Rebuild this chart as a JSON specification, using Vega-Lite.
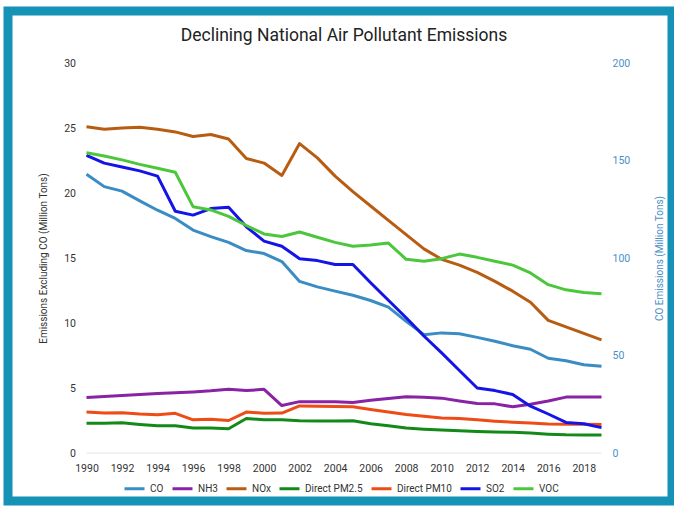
{
  "$schema": "https://vega.github.io/schema/vega-lite/v6.json",
  "width": 664,
  "height": 490,
  "autosize": {"type": "none"},
  "padding": {"left": 8, "top": 11, "right": 2, "bottom": 5},
  "background": "white",
  "config": {
    "font": "Roboto",
    "view": {"stroke": "#1592b6", "strokeWidth": 9, "fill": "white"},
    "axis": {"grid": false, "domain": false, "ticks": false, "tickSize": 0, "labelFontSize": 10.5, "labelColor": "#333333", "titleFontSize": 10, "titleFontWeight": "normal", "titleColor": "#333333", "labelPadding": 3}
  },
  "title": {"text": "Declining National Air Pollutant Emissions", "fontSize": 17.5, "fontWeight": "normal", "color": "#222222", "offset": -33, "anchor": "middle", "frame": "group", "dx": 4},
  "datasets": {
    "emis": [
      {"year": 1990, "pollutant": "CO", "value": 143},
      {"year": 1991, "pollutant": "CO", "value": 136.6},
      {"year": 1992, "pollutant": "CO", "value": 134.3},
      {"year": 1993, "pollutant": "CO", "value": 129.3},
      {"year": 1994, "pollutant": "CO", "value": 124.5},
      {"year": 1995, "pollutant": "CO", "value": 120.3},
      {"year": 1996, "pollutant": "CO", "value": 114.3},
      {"year": 1997, "pollutant": "CO", "value": 111},
      {"year": 1998, "pollutant": "CO", "value": 108},
      {"year": 1999, "pollutant": "CO", "value": 103.8},
      {"year": 2000, "pollutant": "CO", "value": 102.3},
      {"year": 2001, "pollutant": "CO", "value": 98.2},
      {"year": 2002, "pollutant": "CO", "value": 88},
      {"year": 2003, "pollutant": "CO", "value": 85.2},
      {"year": 2004, "pollutant": "CO", "value": 83},
      {"year": 2005, "pollutant": "CO", "value": 80.9},
      {"year": 2006, "pollutant": "CO", "value": 78.2},
      {"year": 2007, "pollutant": "CO", "value": 74.8},
      {"year": 2008, "pollutant": "CO", "value": 67.5},
      {"year": 2009, "pollutant": "CO", "value": 60.7},
      {"year": 2010, "pollutant": "CO", "value": 61.6},
      {"year": 2011, "pollutant": "CO", "value": 61.2},
      {"year": 2012, "pollutant": "CO", "value": 59.3},
      {"year": 2013, "pollutant": "CO", "value": 57.3},
      {"year": 2014, "pollutant": "CO", "value": 55},
      {"year": 2015, "pollutant": "CO", "value": 53.2},
      {"year": 2016, "pollutant": "CO", "value": 48.6},
      {"year": 2017, "pollutant": "CO", "value": 47.3},
      {"year": 2018, "pollutant": "CO", "value": 45.3},
      {"year": 2019, "pollutant": "CO", "value": 44.5},
      {"year": 1990, "pollutant": "NH3", "value": 4.27},
      {"year": 1991, "pollutant": "NH3", "value": 4.35},
      {"year": 1992, "pollutant": "NH3", "value": 4.43},
      {"year": 1993, "pollutant": "NH3", "value": 4.5},
      {"year": 1994, "pollutant": "NH3", "value": 4.57},
      {"year": 1995, "pollutant": "NH3", "value": 4.63},
      {"year": 1996, "pollutant": "NH3", "value": 4.7},
      {"year": 1997, "pollutant": "NH3", "value": 4.78},
      {"year": 1998, "pollutant": "NH3", "value": 4.9},
      {"year": 1999, "pollutant": "NH3", "value": 4.8},
      {"year": 2000, "pollutant": "NH3", "value": 4.9},
      {"year": 2001, "pollutant": "NH3", "value": 3.65},
      {"year": 2002, "pollutant": "NH3", "value": 3.95},
      {"year": 2003, "pollutant": "NH3", "value": 3.95},
      {"year": 2004, "pollutant": "NH3", "value": 3.95},
      {"year": 2005, "pollutant": "NH3", "value": 3.88},
      {"year": 2006, "pollutant": "NH3", "value": 4.05},
      {"year": 2007, "pollutant": "NH3", "value": 4.2},
      {"year": 2008, "pollutant": "NH3", "value": 4.32},
      {"year": 2009, "pollutant": "NH3", "value": 4.28},
      {"year": 2010, "pollutant": "NH3", "value": 4.22},
      {"year": 2011, "pollutant": "NH3", "value": 4.0},
      {"year": 2012, "pollutant": "NH3", "value": 3.8},
      {"year": 2013, "pollutant": "NH3", "value": 3.78},
      {"year": 2014, "pollutant": "NH3", "value": 3.55},
      {"year": 2015, "pollutant": "NH3", "value": 3.75},
      {"year": 2016, "pollutant": "NH3", "value": 4.0},
      {"year": 2017, "pollutant": "NH3", "value": 4.3},
      {"year": 2018, "pollutant": "NH3", "value": 4.3},
      {"year": 2019, "pollutant": "NH3", "value": 4.3},
      {"year": 1990, "pollutant": "NOx", "value": 25.1},
      {"year": 1991, "pollutant": "NOx", "value": 24.9},
      {"year": 1992, "pollutant": "NOx", "value": 25.0},
      {"year": 1993, "pollutant": "NOx", "value": 25.05},
      {"year": 1994, "pollutant": "NOx", "value": 24.9},
      {"year": 1995, "pollutant": "NOx", "value": 24.7},
      {"year": 1996, "pollutant": "NOx", "value": 24.35},
      {"year": 1997, "pollutant": "NOx", "value": 24.5},
      {"year": 1998, "pollutant": "NOx", "value": 24.15},
      {"year": 1999, "pollutant": "NOx", "value": 22.65},
      {"year": 2000, "pollutant": "NOx", "value": 22.3},
      {"year": 2001, "pollutant": "NOx", "value": 21.35},
      {"year": 2002, "pollutant": "NOx", "value": 23.8},
      {"year": 2003, "pollutant": "NOx", "value": 22.7},
      {"year": 2004, "pollutant": "NOx", "value": 21.3},
      {"year": 2005, "pollutant": "NOx", "value": 20.1},
      {"year": 2006, "pollutant": "NOx", "value": 19.0},
      {"year": 2007, "pollutant": "NOx", "value": 17.9},
      {"year": 2008, "pollutant": "NOx", "value": 16.8},
      {"year": 2009, "pollutant": "NOx", "value": 15.7},
      {"year": 2010, "pollutant": "NOx", "value": 14.9},
      {"year": 2011, "pollutant": "NOx", "value": 14.45},
      {"year": 2012, "pollutant": "NOx", "value": 13.9},
      {"year": 2013, "pollutant": "NOx", "value": 13.2},
      {"year": 2014, "pollutant": "NOx", "value": 12.45},
      {"year": 2015, "pollutant": "NOx", "value": 11.6},
      {"year": 2016, "pollutant": "NOx", "value": 10.2},
      {"year": 2017, "pollutant": "NOx", "value": 9.7},
      {"year": 2018, "pollutant": "NOx", "value": 9.2},
      {"year": 2019, "pollutant": "NOx", "value": 8.7},
      {"year": 1990, "pollutant": "Direct PM2.5", "value": 2.28},
      {"year": 1991, "pollutant": "Direct PM2.5", "value": 2.28},
      {"year": 1992, "pollutant": "Direct PM2.5", "value": 2.32},
      {"year": 1993, "pollutant": "Direct PM2.5", "value": 2.2},
      {"year": 1994, "pollutant": "Direct PM2.5", "value": 2.1},
      {"year": 1995, "pollutant": "Direct PM2.5", "value": 2.1},
      {"year": 1996, "pollutant": "Direct PM2.5", "value": 1.92},
      {"year": 1997, "pollutant": "Direct PM2.5", "value": 1.92},
      {"year": 1998, "pollutant": "Direct PM2.5", "value": 1.87},
      {"year": 1999, "pollutant": "Direct PM2.5", "value": 2.65},
      {"year": 2000, "pollutant": "Direct PM2.5", "value": 2.55},
      {"year": 2001, "pollutant": "Direct PM2.5", "value": 2.55},
      {"year": 2002, "pollutant": "Direct PM2.5", "value": 2.48},
      {"year": 2003, "pollutant": "Direct PM2.5", "value": 2.47},
      {"year": 2004, "pollutant": "Direct PM2.5", "value": 2.47},
      {"year": 2005, "pollutant": "Direct PM2.5", "value": 2.48},
      {"year": 2006, "pollutant": "Direct PM2.5", "value": 2.25},
      {"year": 2007, "pollutant": "Direct PM2.5", "value": 2.1},
      {"year": 2008, "pollutant": "Direct PM2.5", "value": 1.92},
      {"year": 2009, "pollutant": "Direct PM2.5", "value": 1.83},
      {"year": 2010, "pollutant": "Direct PM2.5", "value": 1.77},
      {"year": 2011, "pollutant": "Direct PM2.5", "value": 1.72},
      {"year": 2012, "pollutant": "Direct PM2.5", "value": 1.66},
      {"year": 2013, "pollutant": "Direct PM2.5", "value": 1.62},
      {"year": 2014, "pollutant": "Direct PM2.5", "value": 1.59},
      {"year": 2015, "pollutant": "Direct PM2.5", "value": 1.53},
      {"year": 2016, "pollutant": "Direct PM2.5", "value": 1.45},
      {"year": 2017, "pollutant": "Direct PM2.5", "value": 1.4},
      {"year": 2018, "pollutant": "Direct PM2.5", "value": 1.39},
      {"year": 2019, "pollutant": "Direct PM2.5", "value": 1.38},
      {"year": 1990, "pollutant": "Direct PM10", "value": 3.15},
      {"year": 1991, "pollutant": "Direct PM10", "value": 3.07},
      {"year": 1992, "pollutant": "Direct PM10", "value": 3.1},
      {"year": 1993, "pollutant": "Direct PM10", "value": 3.0},
      {"year": 1994, "pollutant": "Direct PM10", "value": 2.95},
      {"year": 1995, "pollutant": "Direct PM10", "value": 3.05},
      {"year": 1996, "pollutant": "Direct PM10", "value": 2.55},
      {"year": 1997, "pollutant": "Direct PM10", "value": 2.6},
      {"year": 1998, "pollutant": "Direct PM10", "value": 2.5},
      {"year": 1999, "pollutant": "Direct PM10", "value": 3.15},
      {"year": 2000, "pollutant": "Direct PM10", "value": 3.05},
      {"year": 2001, "pollutant": "Direct PM10", "value": 3.07},
      {"year": 2002, "pollutant": "Direct PM10", "value": 3.62},
      {"year": 2003, "pollutant": "Direct PM10", "value": 3.6},
      {"year": 2004, "pollutant": "Direct PM10", "value": 3.58},
      {"year": 2005, "pollutant": "Direct PM10", "value": 3.55},
      {"year": 2006, "pollutant": "Direct PM10", "value": 3.35},
      {"year": 2007, "pollutant": "Direct PM10", "value": 3.15},
      {"year": 2008, "pollutant": "Direct PM10", "value": 2.97},
      {"year": 2009, "pollutant": "Direct PM10", "value": 2.83},
      {"year": 2010, "pollutant": "Direct PM10", "value": 2.7},
      {"year": 2011, "pollutant": "Direct PM10", "value": 2.65},
      {"year": 2012, "pollutant": "Direct PM10", "value": 2.55},
      {"year": 2013, "pollutant": "Direct PM10", "value": 2.45},
      {"year": 2014, "pollutant": "Direct PM10", "value": 2.37},
      {"year": 2015, "pollutant": "Direct PM10", "value": 2.3},
      {"year": 2016, "pollutant": "Direct PM10", "value": 2.23},
      {"year": 2017, "pollutant": "Direct PM10", "value": 2.22},
      {"year": 2018, "pollutant": "Direct PM10", "value": 2.22},
      {"year": 2019, "pollutant": "Direct PM10", "value": 2.2},
      {"year": 1990, "pollutant": "SO2", "value": 22.9},
      {"year": 1991, "pollutant": "SO2", "value": 22.3},
      {"year": 1992, "pollutant": "SO2", "value": 22.0},
      {"year": 1993, "pollutant": "SO2", "value": 21.7},
      {"year": 1994, "pollutant": "SO2", "value": 21.3},
      {"year": 1995, "pollutant": "SO2", "value": 18.6},
      {"year": 1996, "pollutant": "SO2", "value": 18.3},
      {"year": 1997, "pollutant": "SO2", "value": 18.8},
      {"year": 1998, "pollutant": "SO2", "value": 18.9},
      {"year": 1999, "pollutant": "SO2", "value": 17.4},
      {"year": 2000, "pollutant": "SO2", "value": 16.3},
      {"year": 2001, "pollutant": "SO2", "value": 15.9},
      {"year": 2002, "pollutant": "SO2", "value": 14.95},
      {"year": 2003, "pollutant": "SO2", "value": 14.8},
      {"year": 2004, "pollutant": "SO2", "value": 14.5},
      {"year": 2005, "pollutant": "SO2", "value": 14.5},
      {"year": 2006, "pollutant": "SO2", "value": 13.1},
      {"year": 2007, "pollutant": "SO2", "value": 11.75},
      {"year": 2008, "pollutant": "SO2", "value": 10.4},
      {"year": 2009, "pollutant": "SO2", "value": 9.0},
      {"year": 2010, "pollutant": "SO2", "value": 7.7},
      {"year": 2011, "pollutant": "SO2", "value": 6.35},
      {"year": 2012, "pollutant": "SO2", "value": 5.0},
      {"year": 2013, "pollutant": "SO2", "value": 4.8},
      {"year": 2014, "pollutant": "SO2", "value": 4.5},
      {"year": 2015, "pollutant": "SO2", "value": 3.6},
      {"year": 2016, "pollutant": "SO2", "value": 3.0},
      {"year": 2017, "pollutant": "SO2", "value": 2.35},
      {"year": 2018, "pollutant": "SO2", "value": 2.25},
      {"year": 2019, "pollutant": "SO2", "value": 1.95},
      {"year": 1990, "pollutant": "VOC", "value": 23.1},
      {"year": 1991, "pollutant": "VOC", "value": 22.85},
      {"year": 1992, "pollutant": "VOC", "value": 22.55},
      {"year": 1993, "pollutant": "VOC", "value": 22.2},
      {"year": 1994, "pollutant": "VOC", "value": 21.9},
      {"year": 1995, "pollutant": "VOC", "value": 21.6},
      {"year": 1996, "pollutant": "VOC", "value": 18.95},
      {"year": 1997, "pollutant": "VOC", "value": 18.7},
      {"year": 1998, "pollutant": "VOC", "value": 18.2},
      {"year": 1999, "pollutant": "VOC", "value": 17.5},
      {"year": 2000, "pollutant": "VOC", "value": 16.85},
      {"year": 2001, "pollutant": "VOC", "value": 16.65},
      {"year": 2002, "pollutant": "VOC", "value": 17.0},
      {"year": 2003, "pollutant": "VOC", "value": 16.6},
      {"year": 2004, "pollutant": "VOC", "value": 16.2},
      {"year": 2005, "pollutant": "VOC", "value": 15.9},
      {"year": 2006, "pollutant": "VOC", "value": 16.0},
      {"year": 2007, "pollutant": "VOC", "value": 16.15},
      {"year": 2008, "pollutant": "VOC", "value": 14.9},
      {"year": 2009, "pollutant": "VOC", "value": 14.75},
      {"year": 2010, "pollutant": "VOC", "value": 14.95},
      {"year": 2011, "pollutant": "VOC", "value": 15.3},
      {"year": 2012, "pollutant": "VOC", "value": 15.05},
      {"year": 2013, "pollutant": "VOC", "value": 14.75},
      {"year": 2014, "pollutant": "VOC", "value": 14.45},
      {"year": 2015, "pollutant": "VOC", "value": 13.85},
      {"year": 2016, "pollutant": "VOC", "value": 12.95},
      {"year": 2017, "pollutant": "VOC", "value": 12.55},
      {"year": 2018, "pollutant": "VOC", "value": 12.35},
      {"year": 2019, "pollutant": "VOC", "value": 12.25}
    ]
  },
  "layer": [
    {
      "data": {"values": [{"year": 1990, "year2": 2019, "value": 0}]},
      "mark": {"type": "rule", "color": "#e4e4e4", "strokeWidth": 1},
      "encoding": {
        "x": {"field": "year", "type": "quantitative", "scale": {"domain": [1990, 2019], "range": [78.5, 593.5], "nice": false, "zero": false}, "axis": {"title": null, "values": [1990, 1992, 1994, 1996, 1998, 2000, 2002, 2004, 2006, 2008, 2010, 2012, 2014, 2016, 2018], "format": "d", "offset": -41, "labelFlush": false}},
        "x2": {"field": "year2"},
        "y": {"field": "value", "type": "quantitative", "scale": {"domain": [0, 30], "range": [442, 52], "nice": false}, "axis": null}
      }
    },
    {
      "data": {"name": "emis"},
      "transform": [{"filter": "datum.pollutant === 'CO'"}],
      "mark": {"type": "line", "strokeWidth": 3, "strokeJoin": "round"},
      "encoding": {
        "x": {"field": "year", "type": "quantitative"},
        "y": {"field": "value", "type": "quantitative", "scale": {"domain": [0, 200], "range": [442, 52], "nice": false}, "axis": {"orient": "right", "values": [0, 50, 100, 150, 200], "title": "CO Emissions (Million Tons)", "titleAngle": -90, "titleBaseline": "top", "titlePadding": 25, "offset": -63, "labelColor": "#4a8fc6", "titleColor": "#4a8fc6"}},
        "color": {"field": "pollutant", "type": "nominal", "scale": {"domain": ["CO", "NH3", "NOx", "Direct PM2.5", "Direct PM10", "SO2", "VOC"], "range": ["#3a8cc4", "#8a22a5", "#b85c12", "#138a18", "#ee4c16", "#1414e6", "#4cc73c"]}, "legend": {"title": null, "orient": "none", "legendX": 115, "legendY": 466, "direction": "horizontal", "symbolType": "stroke", "symbolSize": 400, "symbolStrokeWidth": 3, "labelFontSize": 10, "labelColor": "#333333", "labelOffset": 4, "columnPadding": 2, "padding": 0}}
      }
    },
    {
      "data": {"name": "emis"},
      "transform": [{"filter": "datum.pollutant !== 'CO'"}],
      "mark": {"type": "line", "strokeWidth": 3, "strokeJoin": "round"},
      "encoding": {
        "x": {"field": "year", "type": "quantitative"},
        "y": {"field": "value", "type": "quantitative", "scale": {"domain": [0, 30], "range": [442, 52], "nice": false}, "axis": {"orient": "left", "values": [0, 5, 10, 15, 20, 25, 30], "title": "Emissions Excluding CO (Million Tons)", "titlePadding": 15, "offset": -70.5}},
        "color": {"field": "pollutant", "type": "nominal"}
      }
    }
  ],
  "resolve": {"scale": {"y": "independent"}}
}
